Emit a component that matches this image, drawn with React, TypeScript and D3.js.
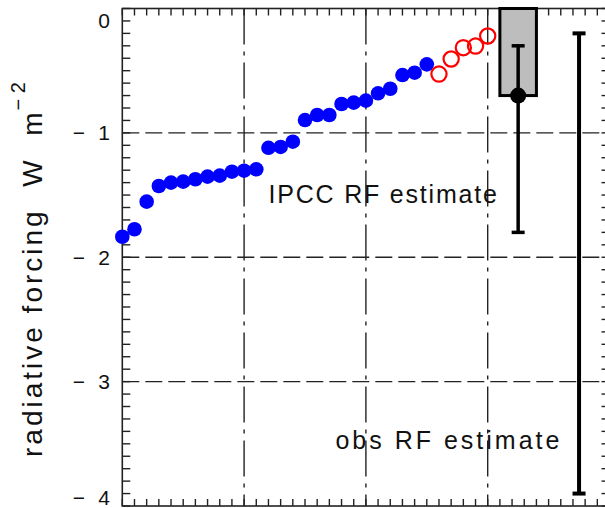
import React from "react";
import * as d3 from "d3";

// Model-estimated aerosol radiative forcing, sorted (filled = group A, open = group B)
const modelForcingA = [
  -1.835, -1.775, -1.553, -1.427, -1.4, -1.392, -1.373, -1.352, -1.344, -1.312,
  -1.304, -1.293, -1.12, -1.113, -1.071, -0.897, -0.856, -0.856, -0.768, -0.757,
  -0.741, -0.682, -0.645, -0.535, -0.516, -0.449,
];
const modelForcingB = [-0.527, -0.406, -0.315, -0.302, -0.221];

// IPCC estimate: central value and range
const ipccCentral = [-0.7];
const ipccRange = [-1.8, -0.3];
// Observation-based estimate range
const obsRange = [-3.9, -0.2];

const yTickValues = [0, -1, -2, -3, -4];
const annotations = ["IPCC RF estimate", "obs RF estimate"];

const W = 605;
const H = 508;

export default function App() {
  const x = d3.scaleLinear().domain([0, 40]).range([122.3, 609.5]);
  const y = d3.scaleLinear().domain([0, -4]).range([8.5, 506]);

  const axisColor = "#222";
  const font = "'Liberation Sans', Arial, sans-serif";

  const xMinor = d3.range(0, 41, 1);
  const yMinor = d3.range(0, 41, 1).map((i) => -i / 10);
  const xGrid = [10, 20, 30];
  const yGrid = [-1, -2, -3];

  const pointsA = modelForcingA.map((v, i) => ({ u: i, v }));
  const pointsB = modelForcingB.map((v, i) => ({ u: modelForcingA.length + i, v }));

  const ipccX = 32.5;
  const ipccBar = [31, 34];
  const obsX = 37.5;
  const capHalf = 6.5;

  return (
    <div style={{ position: "fixed", left: 0, top: 0 }}>
      <svg width={W} height={H} style={{ display: "block", background: "#fff" }}>
        {/* grid lines */}
        {yGrid.map((g) => (
          <line
            key={"hg" + g}
            x1={x(0)}
            x2={x(40)}
            y1={y(g)}
            y2={y(g)}
            stroke={axisColor}
            strokeWidth={1.4}
            strokeDasharray="17,6"
          />
        ))}
        {xGrid.map((g) => (
          <line
            key={"vg" + g}
            x1={x(g)}
            x2={x(g)}
            y1={y(0)}
            y2={y(-4)}
            stroke={axisColor}
            strokeWidth={1.4}
            strokeDasharray="36,7,4,7"
          />
        ))}

        {/* ticks */}
        {xMinor.map((t) => (
          <g key={"xt" + t}>
            <line x1={x(t)} x2={x(t)} y1={y(0)} y2={y(0) + 7} stroke={axisColor} strokeWidth={1.4} />
            <line x1={x(t)} x2={x(t)} y1={y(-4)} y2={y(-4) - 7} stroke={axisColor} strokeWidth={1.4} />
          </g>
        ))}
        {yMinor.map((t) => (
          <g key={"yt" + t}>
            <line x1={x(0)} x2={x(0) + 8} y1={y(t)} y2={y(t)} stroke={axisColor} strokeWidth={1.4} />
            <line x1={x(40)} x2={x(40) - 8} y1={y(t)} y2={y(t)} stroke={axisColor} strokeWidth={1.4} />
          </g>
        ))}

        {/* frame */}
        <rect
          x={x(0)}
          y={y(0)}
          width={x(40) - x(0)}
          height={y(-4) - y(0)}
          fill="none"
          stroke={axisColor}
          strokeWidth={1.6}
        />

        {/* y tick labels: digit right-aligned, minus sign set apart */}
        {yTickValues.map((t) => {
          const ly = Math.min(Math.max(y(t), 20), 497);
          return (
            <g key={"yl" + t}>
              <text
                x={110}
                y={ly}
                dy="0.36em"
                textAnchor="end"
                fontFamily={font}
                fontSize={21}
                fill="#111"
              >
                {String(Math.abs(t))}
              </text>
              {t < 0 && (
                <text
                  x={85}
                  y={ly}
                  dy="0.36em"
                  textAnchor="end"
                  fontFamily={font}
                  fontSize={21}
                  fill="#111"
                >
                  {"\u2212"}
                </text>
              )}
            </g>
          );
        })}

        {/* y axis title */}
        <text
          transform={`translate(42, ${(y(0) + y(-4)) / 2 + 26}) rotate(-90)`}
          textAnchor="middle"
          fontFamily={font}
          fontSize={28}
          letterSpacing={3}
          fill="#111"
          style={{ whiteSpace: "pre" }}
        >
          {"radiative forcing  W  m"}
        </text>
        <text
          transform={`translate(25, ${y(0) + 102}) rotate(-90)`}
          textAnchor="start"
          fontFamily={font}
          fontSize={20}
          fill="#111"
          style={{ whiteSpace: "pre" }}
        >
          {"\u2212 2"}
        </text>

        {/* IPCC bar */}
        <rect
          x={x(ipccBar[0])}
          y={y(0)}
          width={x(ipccBar[1]) - x(ipccBar[0])}
          height={y(ipccCentral[0]) - y(0)}
          fill="#bdbdbd"
          stroke="#000"
          strokeWidth={3}
        />

        {/* IPCC error bar */}
        <line x1={x(ipccX)} x2={x(ipccX)} y1={y(ipccRange[0])} y2={y(ipccRange[1])} stroke="#000" strokeWidth={3.5} />
        {ipccRange.map((r) => (
          <line key={"ic" + r} x1={x(ipccX) - capHalf} x2={x(ipccX) + capHalf} y1={y(r)} y2={y(r)} stroke="#000" strokeWidth={3.5} />
        ))}
        <circle cx={x(ipccX)} cy={y(ipccCentral[0])} r={8} fill="#000" />

        {/* observation range */}
        <line x1={x(obsX)} x2={x(obsX)} y1={y(obsRange[0])} y2={y(obsRange[1])} stroke="#000" strokeWidth={4} />
        {obsRange.map((r) => (
          <line key={"oc" + r} x1={x(obsX) - capHalf} x2={x(obsX) + capHalf} y1={y(r)} y2={y(r)} stroke="#000" strokeWidth={4} />
        ))}

        {/* model points */}
        {pointsA.map((p) => (
          <circle key={"a" + p.u} cx={x(p.u)} cy={y(p.v)} r={7.3} fill="#0000ff" />
        ))}
        {pointsB.map((p) => (
          <circle key={"b" + p.u} cx={x(p.u)} cy={y(p.v)} r={7.6} fill="none" stroke="#ff0000" strokeWidth={2.2} />
        ))}

        {/* annotations */}
        <text
          x={x(12)}
          y={y(-1.566)}
          fontFamily={font}
          fontSize={25}
          letterSpacing={1.8}
          fill="#111"
        >
          {annotations[0]}
        </text>
        <text
          x={x(17.5)}
          y={y(-3.54)}
          fontFamily={font}
          fontSize={25}
          letterSpacing={3}
          fill="#111"
        >
          {annotations[1]}
        </text>
      </svg>
    </div>
  );
}
